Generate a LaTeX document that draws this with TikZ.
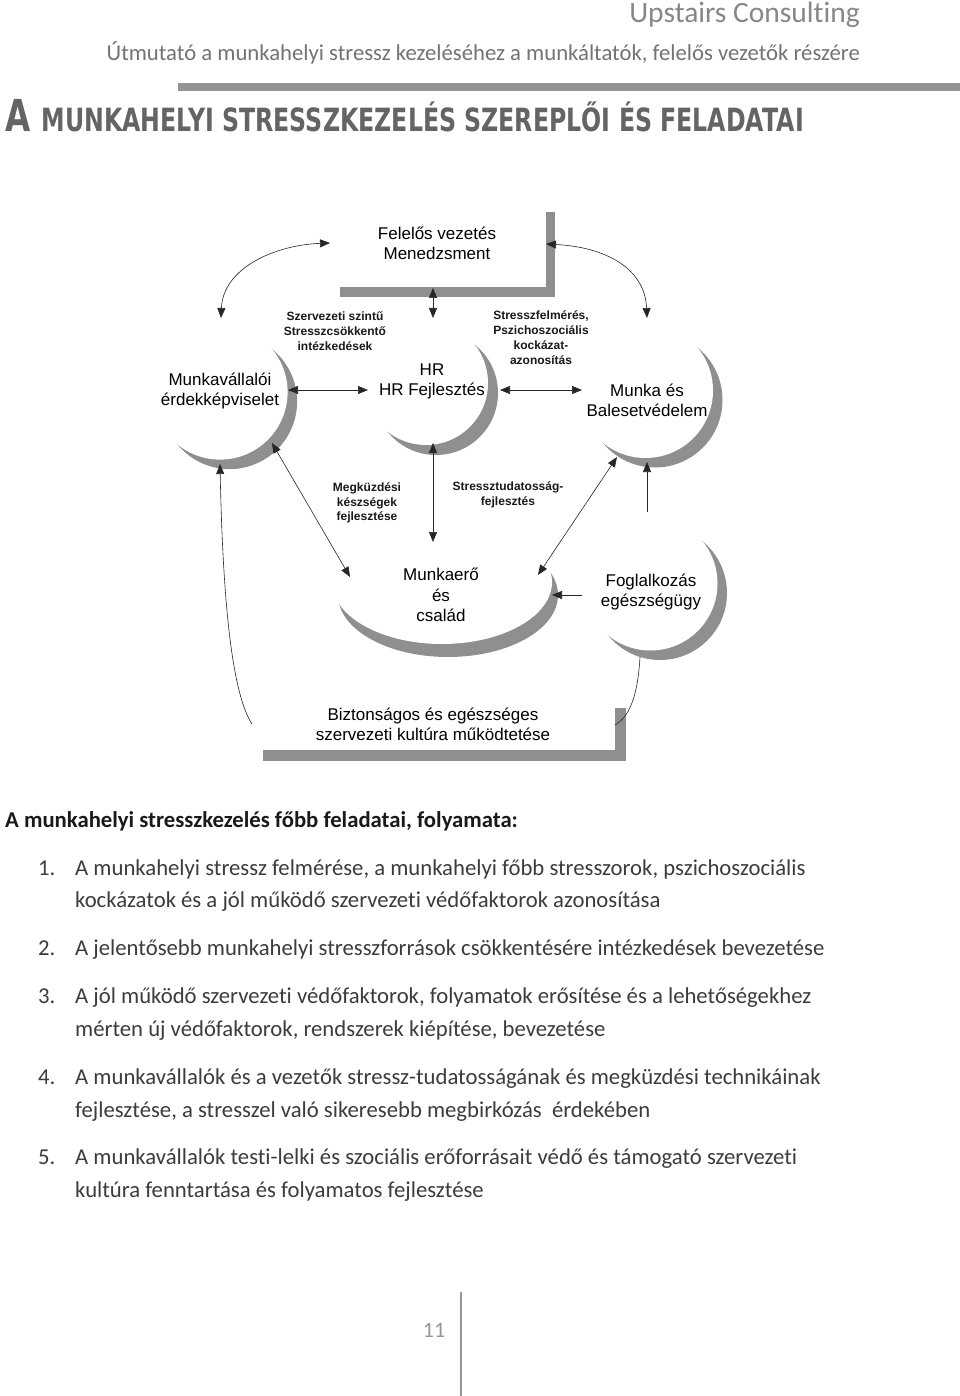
\documentclass[tikz,border=0pt]{standalone}
\usepackage{fontspec}
\usepackage{graphicx}
\usetikzlibrary{arrows.meta}
\setmainfont{Carlito}[Ligatures=NoCommon]
\newfontfamily\arialf{Liberation Sans}
\newfontfamily\titlef{DejaVu Sans}
\definecolor{cresgray}{RGB}{143,143,143}
\definecolor{bargray}{RGB}{148,148,148}
\definecolor{titlegray}{RGB}{100,100,100}
\definecolor{headgray}{RGB}{135,135,135}
\definecolor{subgray}{RGB}{115,115,115}
\definecolor{bodygray}{RGB}{60,60,60}
\definecolor{pagegray}{RGB}{150,150,150}
\newcommand{\crescent}[5]{%
  \fill[cres] (#1,#2) circle[radius=#3pt];
  \fill[white] (#1+#4,#2+#5) circle[radius=#3pt];}
\begin{document}
\begin{tikzpicture}[x=1pt,y=-1pt,
  cres/.style={fill=cresgray},
  shadowbar/.style={fill=cresgray},
  lbl/.style={font=\arialf\fontsize{17}{20}\selectfont, align=center, text=black, inner sep=0pt},
  blbl/.style={font=\arialf\bfseries\fontsize{12}{14.8}\selectfont, align=center, text=black!90, inner sep=0pt},
  con/.style={draw=black!85, line width=0.6pt},
  darr/.style={con, {Triangle[length=10pt,width=8pt]}-{Triangle[length=10pt,width=8pt]}},
  sarr/.style={con, -{Triangle[length=10pt,width=8pt]}},
  body/.style={font=\fontsize{22.7}{27}\selectfont, text=bodygray, anchor=base west, inner sep=0pt},
]
\useasboundingbox (0,0) rectangle (960,1396);
\fill[white] (0,0) rectangle (960,1396);

% header
\node[anchor=base east, inner sep=0pt, text=headgray, font=\fontsize{29.5}{30}\selectfont] (hdr) at (860,23) {Upstairs Consulting};
\node[anchor=base east, inner sep=0pt, text=subgray, font=\fontsize{22.7}{27}\selectfont] (sub) at (860,61) {Útmutató a munkahelyi stressz kezeléséhez a munkáltatók, felelős vezetők részére};
\fill[bargray] (178,83) rectangle (960,91);

% title
\node[anchor=base west, inner sep=0pt, text=titlegray] (ttl) at (5,132) {\scalebox{0.74}[1]{\titlef\bfseries{\fontsize{44}{44}\selectfont A}\hspace{15pt}\fontsize{32}{32}\selectfont MUNKAHELYI STRESSZKEZELÉS SZEREPLŐI ÉS FELADATAI}};

% crescents
\crescent{229.6}{401.6}{67.5}{-9.5}{-9.5}
\crescent{436}{393}{62}{-10}{-10}
\crescent{655}{400}{67.5}{-9.5}{-9.5}
\crescent{660}{593}{67}{-9.5}{-9.5}
\fill[cres] (448,595) ellipse[x radius=110pt, y radius=62pt];
\fill[white] (442,582) ellipse[x radius=110pt, y radius=62pt];

% L-shaped shadows
\fill[shadowbar] (546,212) rectangle (555,297);
\fill[shadowbar] (340,287) rectangle (555,297);
\fill[shadowbar] (615,708) rectangle (626,761);
\fill[shadowbar] (263,750) rectangle (626,761);

% main labels
\node[lbl] (fel) at (437,243) {Felelős vezetés\\Menedzsment};
\node[lbl] (biz) at (433,724) {Biztonságos és egészséges\\szervezeti kultúra működtetése};
\node[lbl] (mv) at (220,391) {Munkavállalói\\érdekképviselet};
\node[lbl] (hr) at (432,381) {HR\\HR Fejlesztés};
\node[lbl] (mb) at (647,400) {Munka és\\Balesetvédelem};
\node[lbl, font=\arialf\fontsize{17}{20.5}\selectfont] (mc) at (441,595) {Munkaerő\\és\\család};
\node[lbl] (fe) at (651,592) {Foglalkozás\\egészségügy};

% bold small labels
\node[blbl] (szsz) at (335,331.5) {Szervezeti szintű\\Stresszcsökkentő\\intézkedések};
\node[blbl] (sfm) at (541,337.5) {Stresszfelmérés,\\Pszichoszociális\\kockázat-\\azonosítás};
\node[blbl] (mgk) at (367,503) {Megküzdési\\készségek\\fejlesztése};
\node[blbl] (stt) at (508,494.5) {Stressztudatosság-\\fejlesztés};

% connector end points
\coordinate (a1) at (330,243);
\coordinate (a2) at (221,318);
\coordinate (b1) at (546,244);
\coordinate (b2) at (647,318);
\coordinate (c1) at (433,288);
\coordinate (c2) at (433,318);
\coordinate (d1) at (288,390);
\coordinate (d2) at (368,390);
\coordinate (e1) at (500,390);
\coordinate (e2) at (582,390);
\coordinate (f1) at (433,443);
\coordinate (f2) at (433,542);
\coordinate (g1) at (272,443);
\coordinate (g2) at (350,577);
\coordinate (h1) at (617,457);
\coordinate (h2) at (538,575);
\coordinate (i1) at (647,512);
\coordinate (i2) at (647,462);
\coordinate (j1) at (582,595);
\coordinate (j2) at (552,595);
\coordinate (k1) at (252,724);
\coordinate (k2) at (220,464);
\coordinate (l1) at (640,657);
\coordinate (l2) at (615,725);

% connectors
\draw[darr] (a1) .. controls (275,245) and (223,268) .. (a2);
\draw[darr] (b1) .. controls (605,247) and (645,268) .. (b2);
\draw[darr] (c1) -- (c2);
\draw[darr] (d1) -- (d2);
\draw[darr] (e1) -- (e2);
\draw[darr] (f1) -- (f2);
\draw[darr] (g1) -- (g2);
\draw[darr] (h1) -- (h2);
\draw[sarr] (i1) -- (i2);
\draw[sarr] (j1) -- (j2);
\draw[sarr] (k1) .. controls (233,695) and (223,610) .. (k2);
\draw[con] (l1) .. controls (638,690) and (632,715) .. (l2);

% text section
\node[body, text=black!90, font=\bfseries\fontsize{22.7}{27}\selectfont] (hd) at (5,827) {A munkahelyi stresszkezelés főbb feladatai, folyamata:};
\node[body] (n1) at (38,875) {1.};
\node[body] (t1a) at (75,875) {A munkahelyi stressz felmérése, a munkahelyi főbb stresszorok, pszichoszociális};
\node[body] (t1b) at (75,907) {kockázatok és a jól működő szervezeti védőfaktorok azonosítása};
\node[body] (n2) at (38,955) {2.};
\node[body] (t2a) at (75,955) {A jelentősebb munkahelyi stresszforrások csökkentésére intézkedések bevezetése};
\node[body] (n3) at (38,1003) {3.};
\node[body] (t3a) at (75,1003) {A jól működő szervezeti védőfaktorok, folyamatok erősítése és a lehetőségekhez};
\node[body] (t3b) at (75,1036) {mérten új védőfaktorok, rendszerek kiépítése, bevezetése};
\node[body] (n4) at (38,1084) {4.};
\node[body] (t4a) at (75,1084) {A munkavállalók és a vezetők stressz-tudatosságának és megküzdési technikáinak};
\node[body] (t4b) at (75,1117) {fejlesztése, a stresszel való sikeresebb megbirkózás\ \ érdekében};
\node[body] (n5) at (38,1164) {5.};
\node[body] (t5a) at (75,1164) {A munkavállalók testi-lelki és szociális erőforrásait védő és támogató szervezeti};
\node[body] (t5b) at (75,1197) {kultúra fenntartása és folyamatos fejlesztése};

% footer
\node[anchor=base, inner sep=0pt, text=pagegray, font=\fontsize{22}{24}\selectfont] (pg) at (434,1337) {11};
\draw[pagegray, line width=2pt] (461,1292) -- (461,1396);
\end{tikzpicture}
\end{document}
